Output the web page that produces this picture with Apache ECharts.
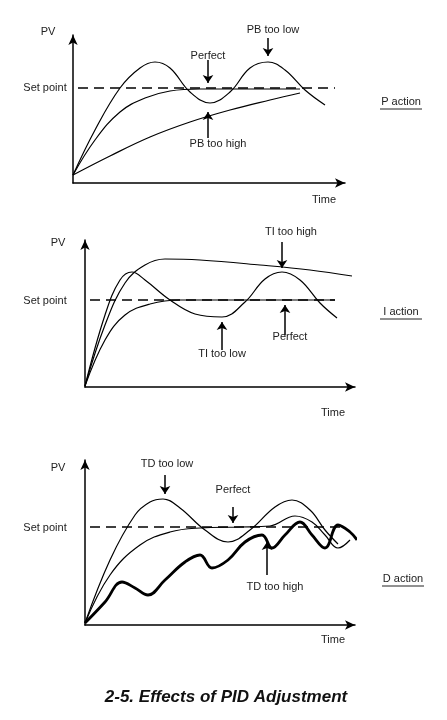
<!DOCTYPE html>
<html><head><meta charset="utf-8">
<script src="https://cdn.jsdelivr.net/npm/echarts@6/dist/echarts.min.js"></script>
<style>html,body{margin:0;padding:0;background:#fff}#c{width:447px;height:720px}</style>
</head><body><div id="c"></div>
<script>
const pSetPoint = [[78, 632], [335, 632]];
const pbTooLow = [[73, 545], [95, 590], [120, 632], [140, 652], [155, 658], [170, 652], [190, 628], [210, 617], [230, 628], [250, 652], [268, 658], [285, 650], [305, 630], [325, 615]];
const pPerfect = [[73, 545], [95, 580], [120, 608], [145, 622], [170, 629], [200, 631], [250, 631], [300, 631]];
const pbTooHigh = [[73, 545], [110, 564], [150, 583], [190, 598], [230, 610], [270, 620], [300, 627]];

const iSetPoint = [[90, 420], [335, 420]];
const tiTooHigh = [[85, 334], [105, 395], [125, 437], [145, 455], [165, 461], [200, 460], [260, 455], [310, 450], [352, 444]];
const tiTooLow = [[85, 334], [105, 405], [120, 440], [132, 448], [145, 440], [170, 420], [195, 406], [222, 403], [245, 418], [265, 441], [282, 448], [300, 440], [320, 417], [337, 402]];
const iPerfect = [[85, 334], [105, 380], [125, 405], [150, 416], [180, 420], [335, 420]];

const dSetPoint = [[90, 193], [345, 193]];
const tdTooLow = [[85, 97], [110, 160], [135, 205], [150, 218], [163, 221], [180, 212], [205, 190], [228, 178], [250, 190], [275, 213], [292, 220], [310, 210], [325, 190], [338, 176]];
const dPerfect = [[85, 97], [110, 145], [140, 175], [170, 188], [200, 192], [240, 193], [270, 194], [295, 204], [312, 198], [325, 185], [338, 172], [350, 180]];
const tdTooHigh = [[85, 97], [105, 118], [122, 138], [135, 132], [148, 125], [165, 140], [185, 158], [200, 165], [212, 152], [228, 160], [245, 178], [262, 185], [272, 172], [285, 185], [300, 198], [312, 185], [325, 172], [338, 195], [350, 188], [357, 180]];

const arrows = [
  [[[268, 682], [268, 664]], 0], [[[208, 660], [208, 637]], 0], [[[208, 582], [208, 608]], 0],
  [[[282, 478], [282, 452]], 1], [[[222, 370], [222, 398]], 1], [[[285, 385], [285, 415]], 1],
  [[[165, 245], [165, 226]], 2], [[[233, 213], [233, 197]], 2], [[[267, 145], [267, 178]], 2]
];

const grids = [
  {left: 73, top: 35, width: 272, height: 148, x: [73, 345], y: [537, 685]},
  {left: 85, top: 240, width: 270, height: 147, x: [85, 355], y: [333, 480]},
  {left: 85, top: 460, width: 270, height: 165, x: [85, 355], y: [95, 260]}
];

const chart = echarts.init(document.getElementById('c'));
const ax = {show: true, onZero: false, symbol: ['none', 'arrow'], symbolSize: [7, 10], lineStyle: {color: '#000', width: 1.5}};
const line = (d, g, w, dash) => ({type: 'line', data: d, xAxisIndex: g, yAxisIndex: g, smooth: dash ? false : 0.4,
  showSymbol: false, lineStyle: {color: '#000', width: w || 1.2, type: dash ? [10, 6] : 'solid'}, silent: true, clip: false});

const series = [
  line(pSetPoint, 0, 1.4, true), line(pbTooLow, 0), line(pPerfect, 0), line(pbTooHigh, 0),
  line(iSetPoint, 1, 1.4, true), line(tiTooHigh, 1), line(tiTooLow, 1), line(iPerfect, 1),
  line(dSetPoint, 2, 1.4, true), line(tdTooLow, 2), line(dPerfect, 2), line(tdTooHigh, 2, 2.8)
];
[0, 1, 2].forEach(g => series.push({type: 'line', data: [], xAxisIndex: g, yAxisIndex: g, clip: false,
  markLine: {silent: true, symbol: ['none', 'arrow'], symbolSize: 8, label: {show: false},
    lineStyle: {color: '#000', width: 1.5, type: 'solid'},
    data: arrows.filter(a => a[1] === g).map(a => [{coord: a[0][0]}, {coord: a[0][1]}])}}));

const txt = (x, y, t, o) => Object.assign({type: 'text', x, y, style: Object.assign({text: t, fill: '#222', font: '11px Liberation Sans, Arial', textAlign: 'center', textVerticalAlign: 'middle'}, o || {})});
const underlined = (x, y, t) => [txt(x, y, t), {type: 'line', shape: {x1: x - 21, y1: y + 7, x2: x + 21, y2: y + 7}, style: {stroke: '#222', lineWidth: 1}}];

chart.setOption({
  animation: false,
  grid: grids.map(g => ({left: g.left, top: g.top, width: g.width, height: g.height})),
  xAxis: grids.map((g, i) => ({type: 'value', gridIndex: i, min: g.x[0], max: g.x[1], axisLine: ax, axisTick: {show: false}, axisLabel: {show: false}, splitLine: {show: false}})),
  yAxis: grids.map((g, i) => ({type: 'value', gridIndex: i, min: g.y[0], max: g.y[1], axisLine: ax, axisTick: {show: false}, axisLabel: {show: false}, splitLine: {show: false}})),
  series,
  graphic: [
    txt(48, 32, 'PV'), txt(45, 88, 'Set point'), txt(324, 200, 'Time'),
    txt(273, 30, 'PB too low'), txt(208, 56, 'Perfect'), txt(218, 144, 'PB too high'),
    ...underlined(401, 102, 'P action'),
    txt(58, 243, 'PV'), txt(45, 301, 'Set point'), txt(333, 413, 'Time'),
    txt(291, 232, 'TI too high'), txt(222, 354, 'TI too low'), txt(290, 337, 'Perfect'),
    ...underlined(401, 312, 'I action'),
    txt(58, 468, 'PV'), txt(45, 528, 'Set point'), txt(333, 640, 'Time'),
    txt(167, 464, 'TD too low'), txt(233, 490, 'Perfect'), txt(275, 587, 'TD too high'),
    ...underlined(403, 579, 'D action'),
    txt(226, 697, '2-5. Effects of PID Adjustment', {font: 'italic bold 17px Liberation Sans, Arial', fill: '#111'})
  ]
});
</script></body></html>
